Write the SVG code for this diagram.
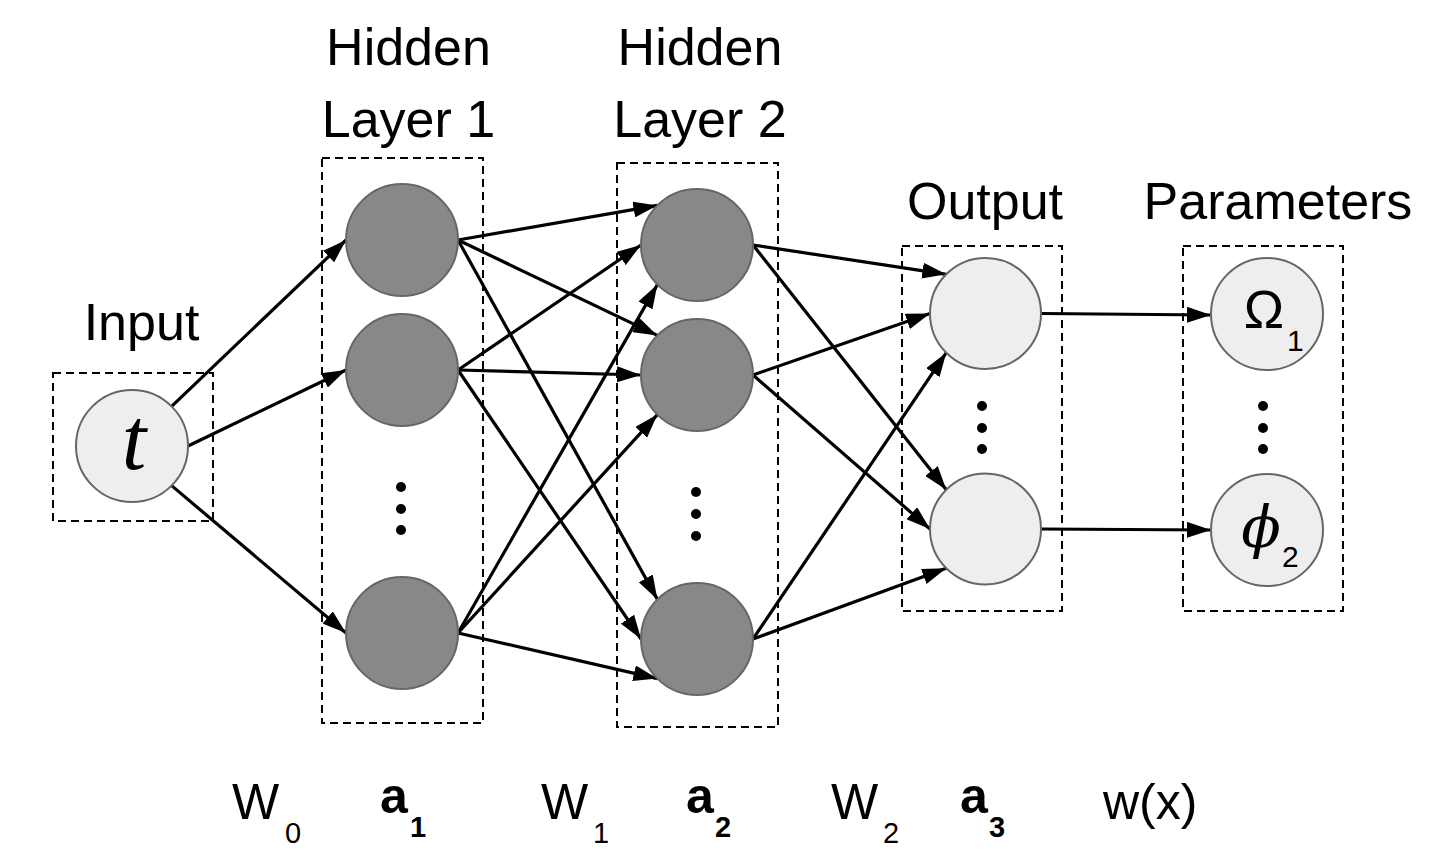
<svg xmlns="http://www.w3.org/2000/svg" width="1450" height="868" viewBox="0 0 1450 868">
<defs>
<marker id="ah" markerUnits="userSpaceOnUse" markerWidth="24" markerHeight="16" refX="24" refY="8" orient="auto">
<path d="M0,0 L24,8 L0,16 z" fill="#000"/>
</marker>
<style>
.box{fill:none;stroke:#000;stroke-width:2;stroke-dasharray:8 5}
.dark{fill:#888888;stroke:#666666;stroke-width:2}
.light{fill:#eeeeee;stroke:#666666;stroke-width:2}
.dot{fill:#000}
.lbl{font-family:"Liberation Sans",Arial,sans-serif;font-size:52px;fill:#000}
.big{font-family:"Liberation Sans",Arial,sans-serif;font-size:50px;fill:#000}
.sub{font-family:"Liberation Sans",Arial,sans-serif;font-size:29px;fill:#000}
.bb{font-family:"Liberation Sans",Arial,sans-serif;font-size:50px;font-weight:bold;fill:#000}
.bsub{font-family:"Liberation Sans",Arial,sans-serif;font-size:29px;font-weight:bold;fill:#000}
.conn line{stroke:#000;stroke-width:3.2;marker-end:url(#ah)}
</style>
</defs>
<rect width="1450" height="868" fill="#fff"/>

<g id="titles">
<text class="lbl" x="141.5" y="340" text-anchor="middle">Input</text>
<text class="lbl" x="408.5" y="65" text-anchor="middle">Hidden</text>
<text class="lbl" x="408.5" y="137" text-anchor="middle">Layer 1</text>
<text class="lbl" x="700" y="65" text-anchor="middle">Hidden</text>
<text class="lbl" x="700" y="137" text-anchor="middle">Layer 2</text>
<text class="lbl" x="985" y="219" text-anchor="middle">Output</text>
<text class="lbl" x="1278" y="219" text-anchor="middle">Parameters</text>
</g>

<g id="boxes">
<rect class="box" x="53" y="373" width="160" height="148"/>
<rect class="box" x="322" y="158" width="161" height="565"/>
<rect class="box" x="617" y="163" width="161" height="564"/>
<rect class="box" x="902" y="246" width="160" height="365"/>
<rect class="box" x="1183" y="246" width="160" height="365"/>
</g>

<g class="conn" id="connectors">
<line x1="171.6" y1="406.4" x2="346" y2="240"/>
<line x1="188" y1="446" x2="346" y2="370"/>
<line x1="171.6" y1="485.6" x2="346" y2="633"/>

<line x1="458" y1="240" x2="657.4" y2="205.4"/>
<line x1="458" y1="240" x2="657.4" y2="335.4"/>
<line x1="458" y1="240" x2="657.4" y2="599.4"/>
<line x1="458" y1="370" x2="641" y2="245"/>
<line x1="458" y1="370" x2="641" y2="375"/>
<line x1="458" y1="370" x2="641" y2="639"/>
<line x1="458" y1="633" x2="657.4" y2="284.6"/>
<line x1="458" y1="633" x2="657.4" y2="414.6"/>
<line x1="458" y1="633" x2="657.4" y2="678.6"/>

<line x1="753" y1="245" x2="946.3" y2="274.3"/>
<line x1="753" y1="245" x2="946.3" y2="489.8"/>
<line x1="753" y1="375" x2="930" y2="313.5"/>
<line x1="753" y1="375" x2="930" y2="529"/>
<line x1="753" y1="639" x2="946.3" y2="352.7"/>
<line x1="753" y1="639" x2="946.3" y2="568.2"/>

<line x1="1041" y1="313.5" x2="1211" y2="315"/>
<line x1="1041" y1="529" x2="1211" y2="530"/>
</g>

<g id="input-node">
<circle class="light" cx="132" cy="446" r="56"/>
<text x="134" y="469" text-anchor="middle" font-family="Liberation Serif, serif" font-style="italic" font-size="88">t</text>
</g>

<g id="hidden1">
<circle class="dark" cx="402" cy="240" r="56"/>
<circle class="dark" cx="402" cy="370" r="56"/>
<circle class="dark" cx="402" cy="633" r="56"/>
<circle class="dot" cx="401" cy="487" r="5"/>
<circle class="dot" cx="401" cy="509" r="5"/>
<circle class="dot" cx="401" cy="530" r="5"/>
</g>

<g id="hidden2">
<circle class="dark" cx="697" cy="245" r="56"/>
<circle class="dark" cx="697" cy="375" r="56"/>
<circle class="dark" cx="697" cy="639" r="56"/>
<circle class="dot" cx="696" cy="492" r="5"/>
<circle class="dot" cx="696" cy="514" r="5"/>
<circle class="dot" cx="696" cy="536" r="5"/>
</g>

<g id="output">
<circle class="light" cx="985.5" cy="313.5" r="55.5"/>
<circle class="light" cx="985.5" cy="529" r="55.5"/>
<circle class="dot" cx="982" cy="406" r="5"/>
<circle class="dot" cx="982" cy="428" r="5"/>
<circle class="dot" cx="982" cy="449" r="5"/>
</g>

<g id="parameters">
<circle class="light" cx="1267" cy="314" r="56"/>
<circle class="light" cx="1267" cy="530" r="56"/>
<text x="1264" y="328" text-anchor="middle" font-family="Liberation Sans, sans-serif" font-size="54">Ω</text>
<text x="1287" y="351" font-family="Liberation Sans, sans-serif" font-size="30">1</text>
<text x="1261" y="547" text-anchor="middle" font-family="DejaVu Serif, serif" font-style="italic" font-size="58">ϕ</text>
<text x="1282" y="567" font-family="Liberation Sans, sans-serif" font-size="30">2</text>
<circle class="dot" cx="1263" cy="406" r="5"/>
<circle class="dot" cx="1263" cy="428" r="5"/>
<circle class="dot" cx="1263" cy="449" r="5"/>
</g>

<g id="bottom-labels">
<text class="big" x="232" y="819">W</text><text class="sub" x="285" y="843">0</text>
<text class="bb" x="380" y="813">a</text><text class="bsub" x="410" y="837">1</text>
<text class="big" x="541" y="819">W</text><text class="sub" x="593" y="843">1</text>
<text class="bb" x="686" y="813">a</text><text class="bsub" x="715" y="837">2</text>
<text class="big" x="831" y="819">W</text><text class="sub" x="883" y="843">2</text>
<text class="bb" x="960" y="813">a</text><text class="bsub" x="989" y="837">3</text>
<text class="big" x="1103" y="819">w(x)</text>
</g>
</svg>
